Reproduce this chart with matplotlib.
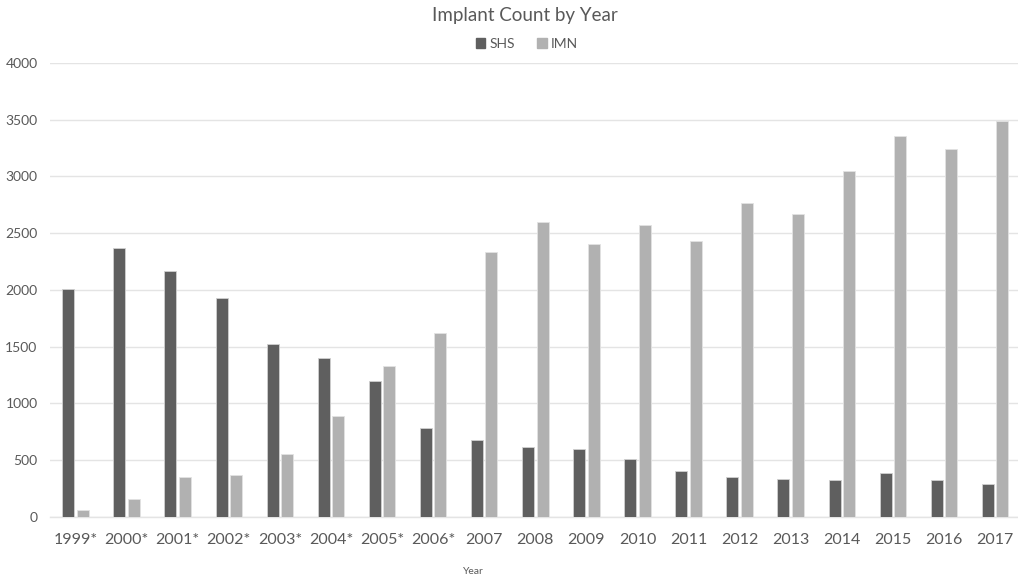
import numpy as np
import matplotlib
matplotlib.use("Agg")
import matplotlib.pyplot as plt
from matplotlib.patches import Patch

# Implant counts per year
years = ["1999*", "2000*", "2001*", "2002*", "2003*", "2004*", "2005*", "2006*",
         "2007", "2008", "2009", "2010", "2011", "2012", "2013", "2014", "2015",
         "2016", "2017"]
shs = [2005, 2370, 2166, 1928, 1520, 1402, 1194, 782, 673, 614, 594, 511,
       405, 353, 332, 326, 383, 321, 291]
imn = [62, 156, 353, 370, 550, 890, 1329, 1617, 2331, 2595, 2404, 2570,
       2431, 2763, 2671, 3050, 3359, 3239, 3486]

SHS_COLOR = "#5f5f5f"
IMN_COLOR = "#b1b1b1"
TEXT_COLOR = "#595959"
GRID_COLOR = "#e4e4e4"

plt.rcParams['font.family'] = ['Lato', 'DejaVu Sans']

fig = plt.figure(figsize=(10.18, 5.75), dpi=100)
ax = fig.add_axes([50 / 1018, 0.1014, 968 / 1018, 0.789])

x = np.arange(len(years))
width = 0.235
offset = 0.142
ax.bar(x - offset, shs, width, color=SHS_COLOR, edgecolor="#d0d0d0",
       linewidth=0.6, zorder=3)
ax.bar(x + offset, imn, width, color=IMN_COLOR, edgecolor="#e2e2e2",
       linewidth=0.6, zorder=3)

ax.set_xlim(-0.5, 18.45)
ax.set_ylim(0, 4000)
ax.set_yticks(np.arange(0, 4001, 500))
ax.set_xticks(x)
ax.set_xticklabels(years)

ax.grid(axis="y", color=GRID_COLOR, linewidth=1.0, zorder=0)
for side in ["top", "right", "left"]:
    ax.spines[side].set_visible(False)
ax.spines["bottom"].set_color(GRID_COLOR)
ax.spines["bottom"].set_linewidth(1.0)

ax.tick_params(axis="x", length=0, pad=12, labelsize=11.5, labelcolor=TEXT_COLOR)
ax.tick_params(axis="y", length=0, pad=9, labelsize=10, labelcolor=TEXT_COLOR)

fig.text(525 / 1018, 1 - 16 / 575, "Implant Count by Year", ha="center",
         va="center", fontsize=13.5, color=TEXT_COLOR)
fig.text(473 / 1018, 1 - 571 / 575, "Year", ha="center", va="center",
         fontsize=7.5, color=TEXT_COLOR)

handles = [Patch(color=SHS_COLOR, label="SHS"), Patch(color=IMN_COLOR, label="IMN")]
fig.legend(handles=handles, loc="center", bbox_to_anchor=(527 / 1018, 1 - 44 / 575),
           ncol=2, frameon=False, fontsize=10, labelcolor=TEXT_COLOR,
           handlelength=0.7, handleheight=0.7, handletextpad=0.3, columnspacing=1.6)

fig.savefig("out.png", dpi=100)
